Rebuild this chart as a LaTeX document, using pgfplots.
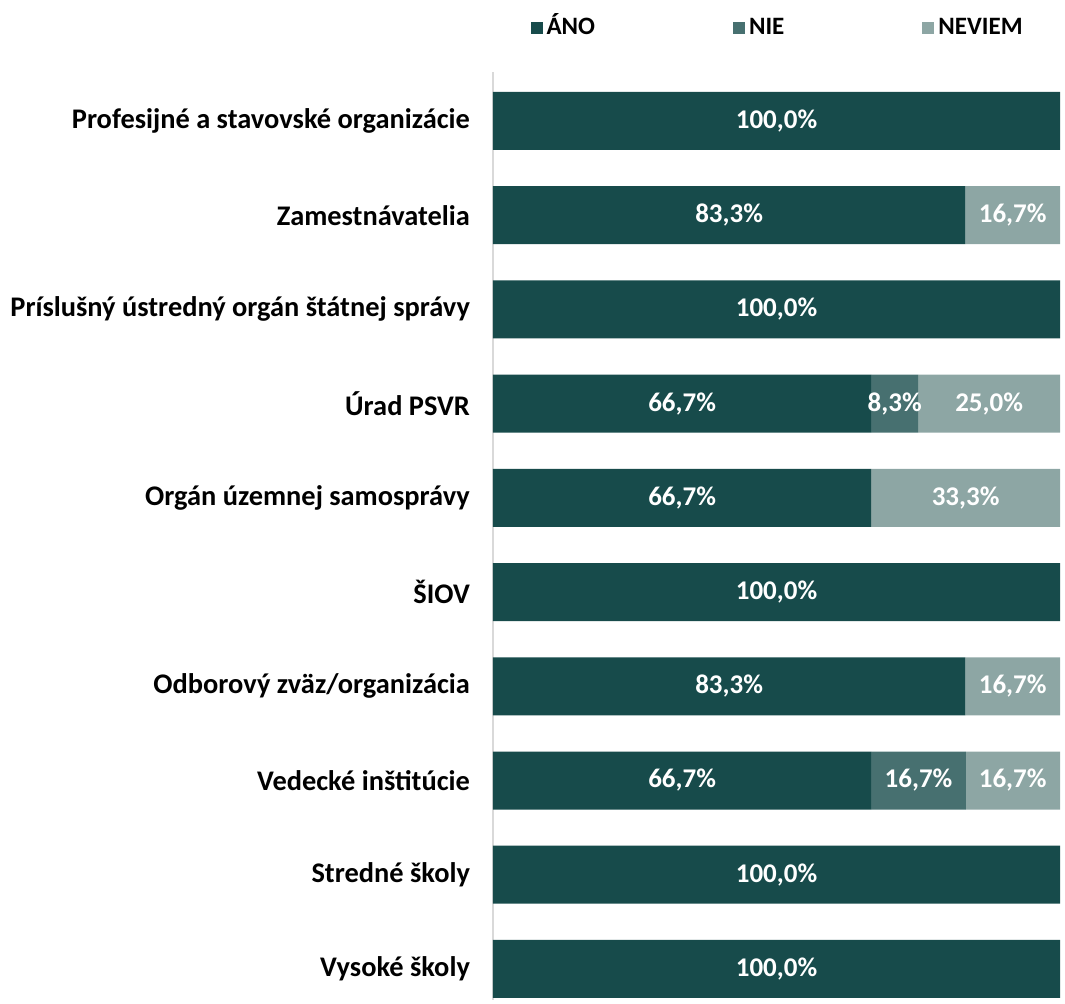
\documentclass[border=0pt]{standalone}
\usepackage{pgfplots}
\pgfplotsset{compat=1.18}
\usepackage{fontspec}
\setmainfont{Carlito}
\definecolor{cano}{HTML}{174B4B}
\definecolor{cnie}{HTML}{477070}
\definecolor{cnev}{HTML}{8DA6A4}
\definecolor{cax}{HTML}{D9D9D9}
\pgfplotsset{
  common/.style={
    at={(0,0)}, anchor=south west, scale only axis,
    width=283.5pt, height=464pt,
    xmin=0, xmax=100,
    ymin=-0.52, ymax=9.33, y dir=reverse,
  }
}
\begin{document}
\begin{tikzpicture}
\useasboundingbox (-246.5pt,-1.5pt) rectangle (286pt,500pt);
\begin{axis}[common,
  xbar stacked, bar width=29pt,
  axis x line=none, axis y line=left,
  axis line style={-, draw=cax, line width=0.8pt},
  major tick length=0pt,
  ytick={0,...,9},
  yticklabels={Profesijné a stavovské organizácie, Zamestnávatelia, Príslušný ústredný orgán štátnej správy, Úrad PSVR, Orgán územnej samosprávy, ŠIOV, Odborový zväz/organizácia, Vedecké inštitúcie, Stredné školy, Vysoké školy},
  yticklabel style={font=\fontsize{14.2}{16}\selectfont\bfseries, xshift=-8pt},
  legend columns=3,
  legend style={draw=none, fill=none, at={(axis description cs:0.055,1.047)}, anchor=west,
    font=\fontsize{12.5}{14}\selectfont\bfseries,
    /tikz/every even column/.append style={column sep=67pt, text height=1.5ex, text depth=0.2ex}},
  legend image code/.code={\fill[#1] (0pt,-3pt) rectangle (6pt,3pt);},
]
\addplot[fill=cano, draw=none] coordinates {(100,0) (83.3,1) (100,2) (66.7,3) (66.7,4) (100,5) (83.3,6) (66.7,7) (100,8) (100,9)};
\addplot[fill=cnie, draw=none] coordinates {(0,0) (0,1) (0,2) (8.3,3) (0,4) (0,5) (0,6) (16.7,7) (0,8) (0,9)};
\addplot[fill=cnev, draw=none] coordinates {(0,0) (16.7,1) (0,2) (25.0,3) (33.3,4) (0,5) (16.7,6) (16.7,7) (0,8) (0,9)};
\legend{ÁNO, NIE, NEVIEM}
\end{axis}
\begin{axis}[common, hide axis]
\addplot[draw=none, mark=none, nodes near coords={\pgfplotspointmeta\%},
  point meta=explicit symbolic,
  every node near coord/.append style={anchor=center, text=white, font=\fontsize{13.5}{15}\selectfont\bfseries}]
  table[x=x, y=y, meta=lab] {
x y lab
50 0 100,0
41.65 1 83,3
91.65 1 16,7
50 2 100,0
33.35 3 66,7
70.85 3 8,3
87.5 3 25,0
33.35 4 66,7
83.35 4 33,3
50 5 100,0
41.65 6 83,3
91.65 6 16,7
33.35 7 66,7
75.05 7 16,7
91.65 7 16,7
50 8 100,0
50 9 100,0
};
\end{axis}
\end{tikzpicture}
\end{document}
